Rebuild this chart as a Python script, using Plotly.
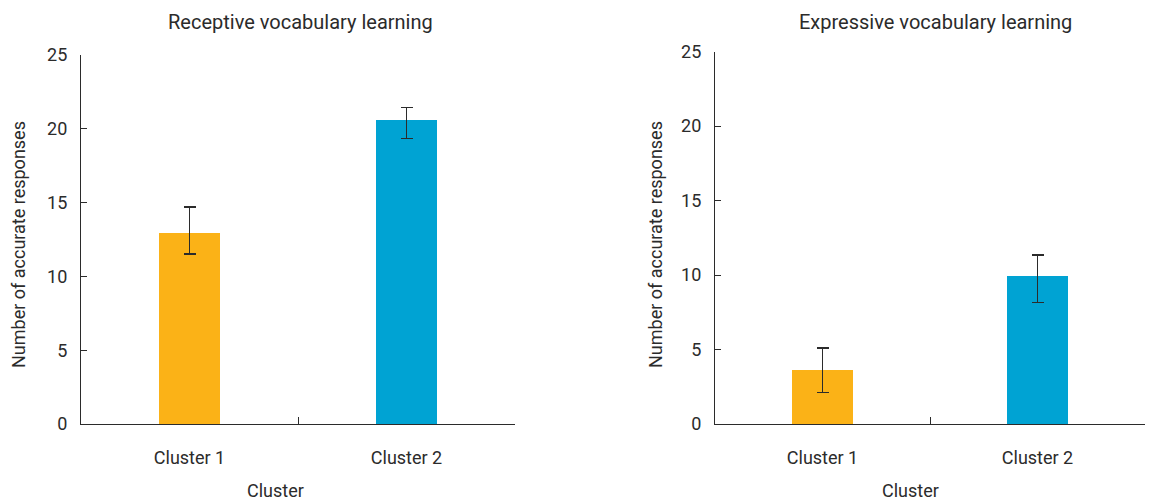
import plotly.graph_objects as go

# Mean number of accurate responses per cluster, with error bar extents
clusters = ["Cluster 1", "Cluster 2"]
receptive_mean = [12.93, 20.6]
receptive_err_plus = [1.76, 0.83]
receptive_err_minus = [1.40, 1.27]
expressive_mean = [3.63, 9.94]
expressive_err_plus = [1.47, 1.41]
expressive_err_minus = [1.53, 1.77]

panel_titles = ["Receptive vocabulary learning", "Expressive vocabulary learning"]
y_title = "Number of accurate responses"
x_title = "Cluster"
y_ticks = [0, 5, 10, 15, 20, 25]

bar_colors = ["#FBB217", "#00A3D3"]
ink = "#2b2b2b"
FONT = "Roboto"

W, H = 1149, 500

def px_x(p):
    return p / W

def px_y(p):
    return 1 - p / H

x_pos = list(range(len(clusters)))

fig = go.Figure()

panels = [
    (receptive_mean, receptive_err_plus, receptive_err_minus, "x", "y"),
    (expressive_mean, expressive_err_plus, expressive_err_minus, "x2", "y2"),
]
for mean, ep, em, xa, ya in panels:
    fig.add_trace(go.Bar(
        x=x_pos, y=mean, width=0.28,
        marker=dict(color=bar_colors, line=dict(width=0)),
        error_y=dict(type="data", symmetric=False, array=ep, arrayminus=em,
                     color=ink, thickness=1.4, width=6),
        xaxis=xa, yaxis=ya, showlegend=False, hoverinfo="skip",
    ))

x_domains = [[px_x(81), px_x(515)], [px_x(715), px_x(1145)]]
y_domains = [[px_y(424), px_y(55)], [px_y(424), px_y(51.7)]]

axis_common = dict(showgrid=False, zeroline=False, showline=True,
                   linecolor=ink, linewidth=1.3, automargin=False,
                   tickfont=dict(family=FONT, size=18, color=ink))

layout = dict(
    width=W, height=H,
    margin=dict(l=0, r=0, t=0, b=0, autoexpand=False),
    paper_bgcolor="white", plot_bgcolor="white",
    bargap=0,
)
for i in range(2):
    sfx = "" if i == 0 else str(i + 1)
    layout["xaxis" + sfx] = dict(
        axis_common, domain=x_domains[i], range=[-0.5, 1.5],
        tickvals=x_pos, ticktext=clusters, ticks="",
        ticklabelstandoff=17,
        minor=dict(tickvals=[0.5], ticks="inside", ticklen=7,
                   tickcolor=ink, tickwidth=1.3),
        anchor="y" + sfx, fixedrange=True,
    )
    layout["yaxis" + sfx] = dict(
        axis_common, domain=y_domains[i], range=[0, 25],
        tickvals=y_ticks, ticks="inside", ticklen=6,
        tickcolor=ink, tickwidth=1.3, ticklabelstandoff=9,
        anchor="x" + sfx, fixedrange=True,
    )

fig.update_layout(**layout)

text_font = dict(family=FONT, size=18, color=ink)
title_font = dict(family=FONT, size=20, color=ink)
annotations = []
title_x = [300, 935]
ylab_x = [18, 655]
xlab_x = [275, 910]
for i in range(2):
    annotations.append(dict(text=panel_titles[i], x=px_x(title_x[i]), y=px_y(22),
                            xref="paper", yref="paper", showarrow=False,
                            xanchor="center", yanchor="middle", font=title_font))
    annotations.append(dict(text=y_title, x=px_x(ylab_x[i]), y=px_y(245),
                            xref="paper", yref="paper", showarrow=False,
                            textangle=-90, xanchor="center", yanchor="middle",
                            font=text_font))
    annotations.append(dict(text=x_title, x=px_x(xlab_x[i]), y=px_y(490),
                            xref="paper", yref="paper", showarrow=False,
                            xanchor="center", yanchor="middle", font=text_font))
fig.update_layout(annotations=annotations)

fig.write_html("out.html")
